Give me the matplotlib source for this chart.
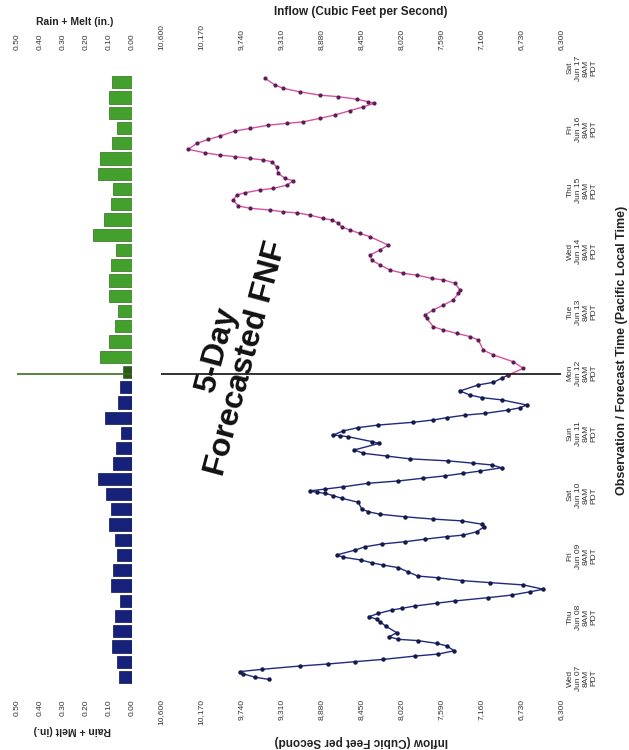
import numpy as np
import matplotlib.pyplot as plt

plt.rcParams['font.family'] = ['Liberation Sans', 'DejaVu Sans']

# hours after Wed Jun 07 8AM PDT, inflow in cfs
obs_hours = [0.0, 0.9, 2.2, 3.1, 4.0, 5.3, 6.1, 7.0, 7.9, 9.2, 10.0, 11.3, 13.2, 14.2, 15.3, 15.8,
             16.8, 18.4, 21.0, 22.7, 23.7, 24.7, 26.0, 27.3, 28.0, 28.9, 30.0, 30.9, 32.2, 33.2,
             34.5, 35.5, 37.2, 38.1, 38.9, 40.0, 40.7, 42.4, 44.0, 45.0, 45.9, 47.0, 48.1, 49.0,
             50.9, 52.2, 53.3, 54.2, 55.2, 56.2, 56.8, 58.1, 60.1, 61.1, 62.4, 63.1, 64.0, 65.0,
             66.0, 67.1, 69.7, 71.3, 72.3, 73.3, 73.6, 74.2, 74.9, 75.8, 77.2, 78.1, 79.2, 80.1,
             81.1, 82.0, 83.3, 84.4, 85.1, 86.0, 86.8, 87.9, 89.0, 90.3, 92.9, 93.6, 95.5, 95.9,
             96.2, 97.8, 99.1, 100.1, 101.2, 102.1, 103.0, 104.0, 104.7, 106.0, 106.9, 108.0,
             110.0, 110.9, 111.9, 113.5, 115.9, 116.9, 118.5, 119.8]
obs_cfs = [9436, 9590, 9715, 9751, 9511, 9106, 8802, 8514, 8210, 7870, 7619, 7447, 7529, 7636,
           7840, 8049, 8149, 8066, 8184, 8246, 8281, 8364, 8264, 8120, 8012, 7870, 7636, 7440,
           7081, 6830, 6633, 6490, 6705, 7063, 7368, 7619, 7840, 7948, 8049, 8210, 8335, 8450,
           8640, 8711, 8514, 8407, 8227, 7977, 7762, 7529, 7350, 7206, 7125, 7152, 7368, 7673,
           7977, 8246, 8372, 8443, 8479, 8657, 8748, 8837, 8926, 8998, 8837, 8640, 8372, 8049,
           7780, 7547, 7350, 7171, 6937, 7045, 7243, 7512, 7923, 8174, 8425, 8522, 8256, 8335,
           8586, 8676, 8748, 8640, 8479, 8264, 7888, 7673, 7529, 7332, 7117, 6867, 6741, 6669,
           6937, 7152, 7278, 7386, 7189, 7028, 6937, 6867]

fcst_hours = [119.8, 122.4, 125.0, 127.7, 129.6, 133.6, 134.9, 136.2, 137.5, 138.8, 142.1, 143.4,
              145.4, 147.3, 149.3, 151.9, 153.2, 155.9, 157.2, 157.8, 159.1, 159.8, 161.1, 163.1,
              165.0, 167.0, 169.0, 170.9, 174.2, 175.5, 176.8, 178.1, 179.5, 180.8, 181.4, 182.7,
              183.6, 184.0, 184.7, 185.4, 186.3, 188.6, 190.6, 191.5, 192.6, 193.2, 194.5, 196.2,
              197.2, 199.1, 201.7, 203.7, 204.4, 205.0, 205.7, 206.3, 207.2, 208.6, 210.9, 212.5,
              213.8, 215.8, 216.8, 218.1, 218.8, 219.4, 220.8, 222.1, 223.8, 225.3, 226.7, 227.3,
              228.3, 229.3, 229.9, 231.2, 232.6, 233.9, 236.5]
fcst_cfs = [6867, 6705, 6813, 7028, 7135, 7189, 7278, 7421, 7565, 7673, 7744, 7762, 7673, 7565,
            7458, 7404, 7386, 7440, 7565, 7690, 7851, 7995, 8138, 8246, 8335, 8353, 8246, 8157,
            8353, 8461, 8568, 8657, 8694, 8765, 8855, 8998, 9141, 9285, 9428, 9643, 9769, 9823,
            9786, 9697, 9536, 9393, 9249, 9178, 9267, 9339, 9356, 9410, 9500, 9643, 9805, 9966,
            10127, 10307, 10216, 10092, 9966, 9805, 9643, 9447, 9249, 9070, 8891, 8730, 8568,
            8425, 8310, 8372, 8496, 8694, 8891, 9106, 9285, 9375, 9482]

# 6-hour rain + melt (in.)
rain_obs = [0.055, 0.067, 0.088, 0.084, 0.074, 0.052, 0.092, 0.084, 0.067, 0.074, 0.102, 0.091,
            0.112, 0.149, 0.081, 0.071, 0.050, 0.119, 0.060, 0.052]
rain_fcst = [0.038, 0.138, 0.102, 0.074, 0.061, 0.102, 0.102, 0.092, 0.071, 0.170, 0.121, 0.092,
             0.081, 0.149, 0.138, 0.088, 0.067, 0.099, 0.099, 0.085]

day_labels = ['Wed\nJun 07\n8AM\nPDT', 'Thu\nJun 08\n8AM\nPDT', 'Fri\nJun 09\n8AM\nPDT',
              'Sat\nJun 10\n8AM\nPDT', 'Sun\nJun 11\n8AM\nPDT', 'Mon\nJun 12\n8AM\nPDT',
              'Tue\nJun 13\n8AM\nPDT', 'Wed\nJun 14\n8AM\nPDT', 'Thu\nJun 15\n8AM\nPDT',
              'Fri\nJun 16\n8AM\nPDT', 'Sat\nJun 17\n8AM\nPDT']
inflow_ticks = [10600, 10170, 9740, 9310, 8880, 8450, 8020, 7590, 7160, 6730, 6300]
rain_ticks = [0.5, 0.4, 0.3, 0.2, 0.1, 0.0]
forecast_start = 120

fig = plt.figure(figsize=(6.29, 7.5), dpi=100)
bottom, height = 0.0771, 0.8472
ax = fig.add_axes([161 / 629, bottom, 400 / 629, height])
ax_r = fig.add_axes([17 / 629, bottom, 115 / 629, height], sharey=ax)

ax.plot(obs_cfs, obs_hours, color='#1f2a7c', lw=1.0, marker='o', ms=2.2,
        mfc='#141a4a', mec='#141a4a')
ax.plot(fcst_cfs, fcst_hours, color='#d9509e', lw=1.0, marker='o', ms=2.0,
        mfc='#5a1d55', mec='#5a1d55')
ax.axhline(forecast_start, color='#222222', lw=1.3)
ax.set_xlim(10600, 6300)
ax.set_ylim(-5, 245)
ax.set_xticks(inflow_ticks)
ax.set_xticklabels(['{:,}'.format(v) for v in inflow_ticks])
ax.tick_params(axis='x', top=True, labeltop=True, bottom=True, labelbottom=True,
               length=0, labelrotation=90, labelsize=6, labelcolor='#333333', pad=5)
ax.yaxis.tick_right()
ax.set_yticks(np.arange(0, 241, 24))
ax.set_yticklabels(day_labels)
ax.tick_params(axis='y', length=0, labelrotation=90, labelsize=6, labelcolor='#333333', pad=4)
for lab in ax.get_yticklabels():
    lab.set_multialignment('center')

ax.text(9840, 128, '5-Day\nForecasted FNF', rotation=75, fontsize=23, fontweight='bold',
        ha='center', va='center', ma='center', color='#111111', linespacing=1.0)

t_obs = np.arange(1, 120, 6)
t_fcst = np.arange(121, 240, 6)
ax_r.barh(t_obs, rain_obs, height=4.8, color='#16217a', edgecolor='#0d1450', lw=0.5)
ax_r.barh(t_fcst, rain_fcst, height=4.8, color='#44a02c', edgecolor='#2d6e1c', lw=0.5)
ax_r.patches[len(rain_obs)].set_facecolor('#2d5a1a')
ax_r.axhline(forecast_start, color='#3a6e22', lw=1.2)
ax_r.set_xlim(0.5, 0)
ax_r.set_xticks(rain_ticks)
ax_r.set_xticklabels(['{:.2f}'.format(v) for v in rain_ticks])
ax_r.tick_params(axis='x', top=True, labeltop=True, bottom=True, labelbottom=True,
                 length=0, labelrotation=90, labelsize=6, labelcolor='#333333', pad=5)
ax_r.tick_params(axis='y', left=False, right=False, labelleft=False, labelright=False)

for a in (ax, ax_r):
    for s in a.spines.values():
        s.set_visible(False)

fig.text(361 / 629, 1 - 12 / 750, 'Inflow (Cubic Feet per Second)', ha='center', va='center',
         fontsize=8.5, fontweight='bold', color='#222222')
fig.text(361 / 629, 1 - 741 / 750, 'Inflow (Cubic Feet per Second)', ha='center', va='center',
         fontsize=8.5, fontweight='bold', color='#222222', rotation=180)
fig.text(75 / 629, 1 - 22 / 750, 'Rain + Melt (in.)', ha='center', va='center',
         fontsize=7.5, fontweight='bold', color='#222222')
fig.text(72 / 629, 1 - 730 / 750, 'Rain + Melt (in.)', ha='center', va='center',
         fontsize=7.5, fontweight='bold', color='#222222', rotation=180)
fig.text(622 / 629, 1 - 350 / 750, 'Observation / Forecast Time (Pacific Local Time)',
         ha='center', va='center', rotation=90, fontsize=9, fontweight='bold', color='#222222')

fig.savefig('out.png', dpi=100, facecolor='white')
